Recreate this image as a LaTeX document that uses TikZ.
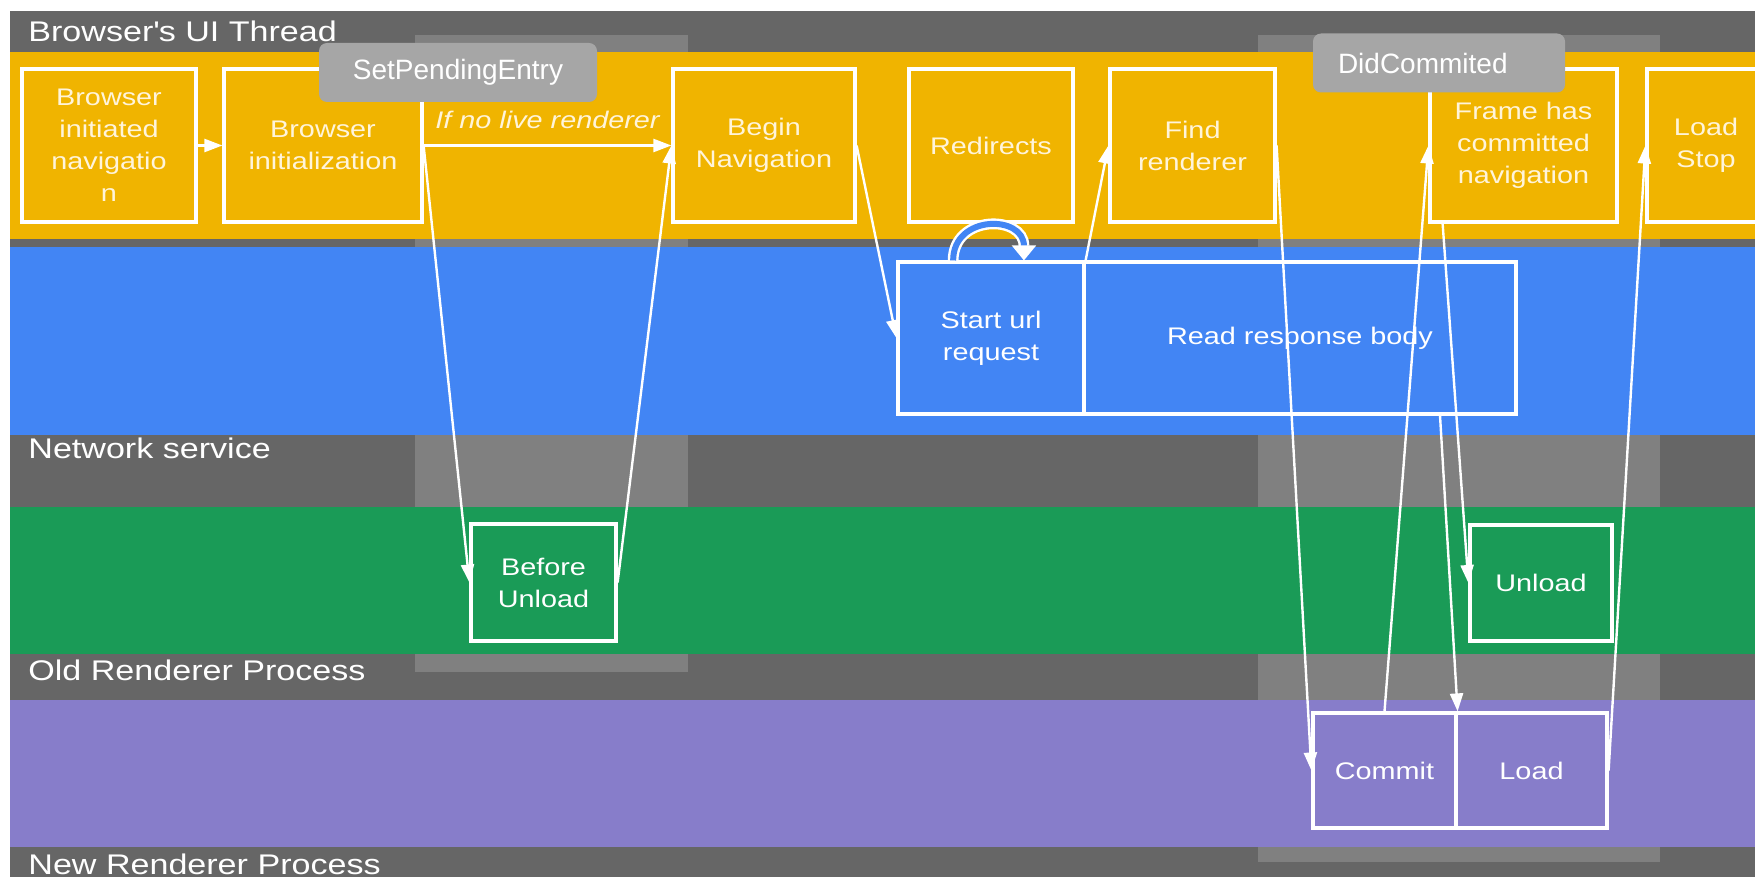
\documentclass[tikz,border=0pt]{standalone}
\usepackage{fontspec}
\setmainfont{Liberation Sans}[FakeStretch=1.2]
\newfontfamily\tipfont{Liberation Sans}
\usetikzlibrary{arrows.meta}

\definecolor{lanegray}{HTML}{666666}
\definecolor{colgray}{HTML}{808080}
\definecolor{uiyellow}{HTML}{F0B400}
\definecolor{netblue}{HTML}{4285F4}
\definecolor{oldgreen}{HTML}{1A9B57}
\definecolor{newpurple}{HTML}{877DCA}
\definecolor{tipgray}{HTML}{A6A6A6}
\definecolor{cream}{HTML}{FFF4DA}

\begin{document}
\begin{tikzpicture}[x=0.5pt, y=-0.5pt,
	flow/.style={draw=white, line width=1.2pt, -{Triangle[length=9pt,width=6.5pt]}},
	box/.style={draw=white, line width=1.6pt, align=center, inner sep=0pt, text=white,
		font=\fontsize{12}{16}\selectfont},
	uibox/.style={box, text=cream, minimum height=76.5pt},
	lane/.style={anchor=west, text=white, inner sep=0pt, font=\fontsize{14.2}{16}\selectfont},
	tip/.style={fill=tipgray, rounded corners=4pt, text=white, minimum height=29.5pt,
		font=\tipfont\fontsize{14}{16}\selectfont}]
	\useasboundingbox (0,0) rectangle (1755,877);
	\fill[lanegray] (10,11) rectangle (1760,880);
	\fill[colgray] (415,35) rectangle (688,52);
	\fill[colgray] (1258,35) rectangle (1660,52);
	\fill[colgray] (415,239) rectangle (688,507);
	\fill[colgray] (1258,239) rectangle (1660,507);
	\fill[colgray] (415,654) rectangle (688,672);
	\fill[colgray] (1258,654) rectangle (1660,862);
	\fill[uiyellow] (10,52) rectangle (1760,239);
	\fill[netblue] (10,247) rectangle (1760,435);
	\fill[oldgreen] (10,507) rectangle (1760,654);
	\fill[newpurple] (10,700) rectangle (1760,847);

	\node[lane] (T1) at (28,31) {Browser\textquotesingle s UI Thread};
	\node[lane] (T2) at (28,448) {Network service};
	\node[lane] (T3) at (28,670) {Old Renderer Process};
	\node[lane] (T4) at (28,864) {New Renderer Process};

	\node[uibox, minimum width=87pt] (BIN) at (109,145.5) {Browser\\initiated\\navigatio\\n};
	\node[uibox, minimum width=99pt] (BI) at (323,145.5) {Browser\\initialization};
	\node[uibox, minimum width=91pt] (BN) at (764,145.5) {Begin\\Navigation};
	\node[uibox, minimum width=82pt] (RD) at (991,145.5) {Redirects};
	\node[uibox, minimum width=82.5pt] (FR) at (1192.5,145.5) {Find\\renderer};
	\node[uibox, minimum width=93.5pt] (FC) at (1523.5,145.5) {Frame has\\committed\\navigation};
	\node[uibox, minimum width=59pt] (LS) at (1706,145.5) {Load\\Stop};

	\node[box, minimum width=93pt, minimum height=76pt] (SU) at (991,338) {Start url\\request};
	\node[box, minimum width=216pt, minimum height=76pt] (RB) at (1300,338) {Read response body};
	\node[box, minimum width=72.5pt, minimum height=58.5pt] (BU) at (543.5,582.5) {Before\\Unload};
	\node[box, minimum width=71pt, minimum height=58pt] (UL) at (1541,583) {Unload};
	\node[box, minimum width=71.5pt, minimum height=57.5pt] (CM) at (1384.5,770.5) {Commit};
	\node[box, minimum width=75.5pt, minimum height=57.5pt] (LD) at (1531.5,770.5) {Load};

	\draw[flow] (BIN) -- (BI);
	\draw[flow] (BI.east) -- node[above, text=cream, inner sep=8pt, font=\fontsize{12}{14}\itshape] {If no live renderer} (BN.west);
	\draw[flow] (BI.east) -- (BU.west);
	\draw[flow] (BU.east) -- (BN.west);
	\draw[flow] (BN.east) -- (SU.west);
	\draw[flow] (SU.north east) -- (FR.west);
	\draw[flow] (FR.east) -- (CM.west);
	\draw[flow] (CM.north) -- (FC.west);
	\draw[flow] (FC.-136) -- (UL.west);
	\draw[flow] (RB.-29.7) -- (CM.north east);
	\draw[flow] (LD.east) -- (LS.west);
	\draw[white, line width=1.2pt, double=netblue, double distance=3pt, -{Triangle[length=7.5pt,width=12pt]}]
		(SU.116) .. controls +(0,-46) and +(0,-46) .. (SU.67);

	\node[tip, minimum width=139pt] (SP) at (458,72.5) {SetPendingEntry};
	\node[tip, align=left, inner xsep=12.5pt, text width=101pt] (DC) at (1439,63) {DidCommited};
\end{tikzpicture}
\end{document}
